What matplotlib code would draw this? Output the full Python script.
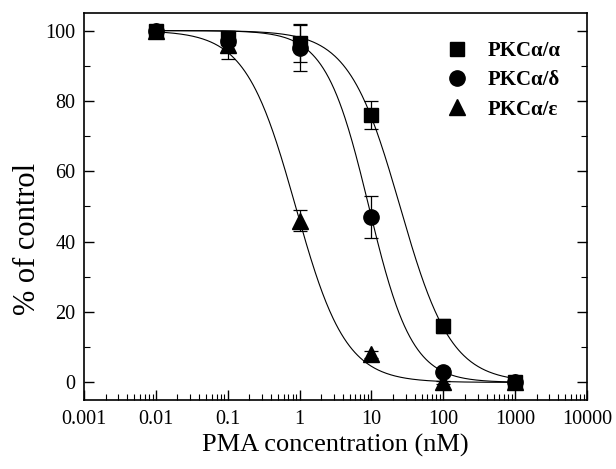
import numpy as np
import matplotlib
matplotlib.use("Agg")
import matplotlib.pyplot as plt
from matplotlib.lines import Line2D
from matplotlib.ticker import LogLocator, NullFormatter, FixedLocator, FixedFormatter, MultipleLocator

plt.rcParams['font.family'] = ['Liberation Serif', 'DejaVu Serif']

# ---- data ----
conc = [0.01, 0.1, 1, 10, 100, 1000]          # PMA concentration (nM)
series_names = ["PKC\u03b1/\u03b1", "PKC\u03b1/\u03b4", "PKC\u03b1/\u03b5"]
alpha_vals = [100, 98, 96.5, 76, 16, 0]
alpha_err = [0.5, 1, 5.5, 4, 2, 0.5]
delta_vals = [100, 97, 95, 47, 3, 0]
delta_err = [0.5, 1, 6.5, 6, 1, 0.5]
eps_vals = [100, 96, 46, 8, 0, 0]
eps_err = [0.5, 4, 3, 1, 0.5, 0.5]
# fitted dose-response curve parameters (IC50 in nM, Hill slope)
fit_ic50 = [25.0, 9.2, 0.88]
fit_hill = [1.22, 1.45, 1.25]
markers = ['s', 'o', '^']
marker_sizes = [10, 11, 11.5]
xticks = [0.001, 0.01, 0.1, 1, 10, 100, 1000, 10000]
xticklabels = ["0.001", "0.01", "0.1", "1", "10", "100", "1000", "10000"]
yticks = [0, 20, 40, 60, 80, 100]

fig = plt.figure(figsize=(6.16, 4.69), dpi=100)
ax = fig.add_axes([84/616, 69/469, 503/616, 387/469])

xs = np.logspace(np.log10(conc[0]), np.log10(conc[-1]), 400)
vals = [alpha_vals, delta_vals, eps_vals]
errs = [alpha_err, delta_err, eps_err]
for i in range(3):
    curve = 100.0 / (1.0 + (xs / fit_ic50[i]) ** fit_hill[i])
    ax.plot(xs, curve, color='black', lw=0.8, zorder=2)
for i in range(3):
    ax.errorbar(conc, vals[i], yerr=errs[i], fmt=markers[i], color='black',
                ms=marker_sizes[i], ecolor='black', elinewidth=0.9,
                capsize=5, capthick=0.9, zorder=3)

ax.set_xscale('log')
ax.set_xlim(0.001, 10000)
ax.set_ylim(-5, 105)
ax.xaxis.set_major_locator(FixedLocator(xticks))
ax.xaxis.set_major_formatter(FixedFormatter(xticklabels))
ax.xaxis.set_minor_locator(LogLocator(base=10, subs=np.arange(2, 10)))
ax.xaxis.set_minor_formatter(NullFormatter())
ax.yaxis.set_major_locator(FixedLocator(yticks))
ax.yaxis.set_minor_locator(MultipleLocator(10))

ax.tick_params(axis='x', which='major', direction='in', length=7, width=1,
               top=False, labelsize=14.5, pad=7)
ax.tick_params(axis='x', which='minor', direction='in', length=4, width=0.8, top=False)
ax.tick_params(axis='y', which='major', direction='in', length=7, width=1,
               right=True, labelsize=14.5, pad=6)
ax.tick_params(axis='y', which='minor', direction='in', length=4.5, width=0.8, right=True)
for s in ax.spines.values():
    s.set_linewidth(1.2)

ax.set_xlabel("PMA concentration (nM)", fontsize=19, labelpad=4)
ax.set_ylabel("% of control", fontsize=22)
ax.yaxis.set_label_coords(-0.083, 0.415)

handles = [Line2D([], [], ls='none', marker=markers[i], color='black',
                  ms=marker_sizes[i]) for i in range(3)]
leg = ax.legend(handles, series_names, loc='upper left',
                bbox_to_anchor=(0.70, 0.955), frameon=False,
                prop={'family': 'Liberation Serif', 'weight': 'bold', 'size': 15},
                handlelength=1.0, handletextpad=0.95, labelspacing=0.45,
                borderpad=0, numpoints=1)

fig.savefig("out.png", dpi=100)
